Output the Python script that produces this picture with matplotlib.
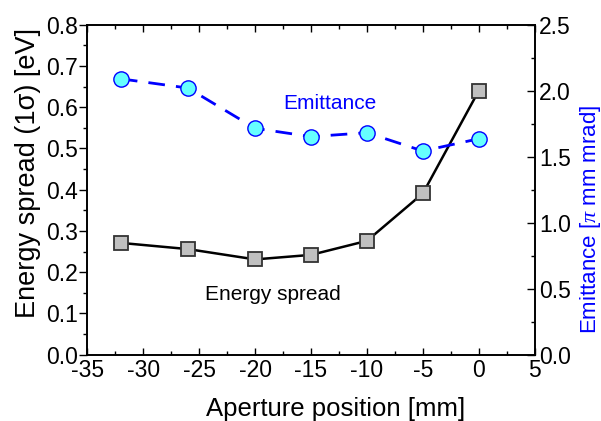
import matplotlib
matplotlib.use('Agg')
import matplotlib.pyplot as plt
from matplotlib.ticker import MultipleLocator, FormatStrFormatter

plt.rcParams['font.family'] = ['Liberation Sans', 'DejaVu Sans']
plt.rcParams['mathtext.fontset'] = 'custom'
plt.rcParams['mathtext.rm'] = 'Liberation Serif'
plt.rcParams['mathtext.it'] = 'Liberation Serif:italic'

# aperture positions [mm]
position = [-32, -26, -20, -15, -10, -5, 0]
# energy spread (1 sigma) [eV]
energy_spread = [0.271, 0.256, 0.231, 0.242, 0.276, 0.391, 0.640]
# emittance [pi mm mrad]
emittance = [2.09, 2.02, 1.715, 1.652, 1.682, 1.543, 1.636]

fig = plt.figure(figsize=(6.01, 4.21), dpi=100)
ax = fig.add_axes([0.1453, 0.1575, 0.7444, 0.7838])
ax2 = ax.twinx()

ax.plot(position, energy_spread, color='black', lw=1.8, marker='s',
        markersize=10, markerfacecolor='#c0c0c0', markeredgecolor='#333333',
        markeredgewidth=1.3, zorder=3)
ax2.plot(position, emittance, color='#0000ff', lw=2.0, ls=(0, (6, 4)), marker='o',
         markersize=11, markerfacecolor='#66ffff', markeredgecolor='#0000ff',
         markeredgewidth=1.0, zorder=3)

ax.set_xlim(-35, 5)
ax.set_ylim(0, 0.8)
ax2.set_ylim(0, 2.5)

ax.xaxis.set_major_locator(MultipleLocator(5))
ax.xaxis.set_minor_locator(MultipleLocator(2.5))
ax.yaxis.set_major_locator(MultipleLocator(0.1))
ax.yaxis.set_minor_locator(MultipleLocator(0.05))
ax2.yaxis.set_major_locator(MultipleLocator(0.5))
ax2.yaxis.set_minor_locator(MultipleLocator(0.25))

ax.xaxis.set_major_formatter(FormatStrFormatter('%d'))
ax.yaxis.set_major_formatter(FormatStrFormatter('%.1f'))
ax2.yaxis.set_major_formatter(FormatStrFormatter('%.1f'))

ax.tick_params(axis='x', which='both', direction='in', top=True, labelsize=16.5, pad=3)
ax.tick_params(axis='x', which='major', length=5, width=1)
ax.tick_params(axis='x', which='minor', length=3, width=1)
ax.tick_params(axis='y', which='both', direction='out', labelsize=16.5, pad=1)
ax.tick_params(axis='y', which='major', length=6, width=1)
ax.tick_params(axis='y', which='minor', length=3, width=1)
ax2.tick_params(axis='y', which='both', direction='in', labelsize=16.5, pad=3)
ax2.tick_params(axis='y', which='major', length=6, width=1)
ax2.tick_params(axis='y', which='minor', length=3, width=1)

for a in (ax, ax2):
    for s in a.spines.values():
        s.set_linewidth(1.2)

ax.set_xlabel('Aperture position [mm]', fontsize=18.5, va='center')
ax.xaxis.set_label_coords(0.554, -0.1645)
ax.set_ylabel('Energy spread (1\u03c3) [eV]', fontsize=19.5, va='center')
ax.yaxis.set_label_coords(-0.1325, 0.552)
ax2.set_ylabel(r'Emittance [$\pi$ mm mrad]', fontsize=16, color='#0000ff',
               rotation=90, va='center')
ax2.yaxis.set_label_coords(1.1236, 0.41)

ax.text(-13.3, 0.61, 'Emittance', color='#0000ff', fontsize=15,
        ha='center', va='center')
ax.text(-18.4, 0.146, 'Energy spread', color='black', fontsize=15,
        ha='center', va='center')

fig.savefig('out.png', dpi=100)
